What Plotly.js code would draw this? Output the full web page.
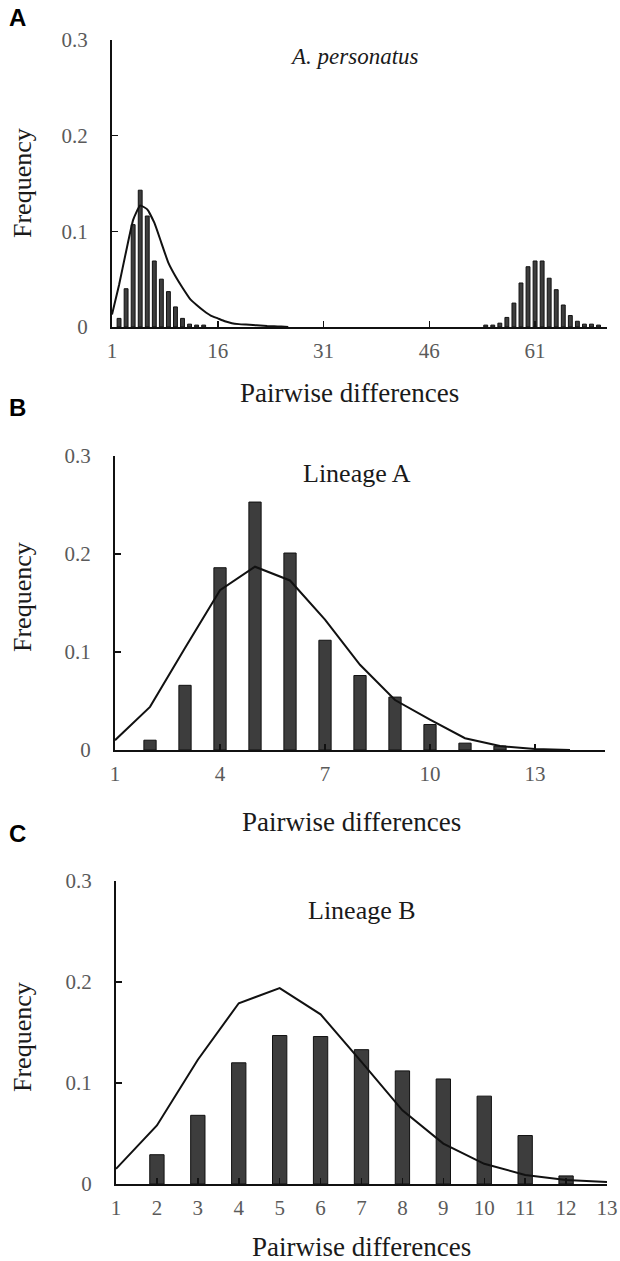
<!DOCTYPE html>
<html>
<head>
<meta charset="utf-8">
<script src="https://cdn.plot.ly/plotly-3.0.1.min.js"></script>
<style>
html,body{margin:0;padding:0;background:#fff;}
#chart{width:620px;height:1261px;}
</style>
</head>
<body>
<div id="chart"></div>
<script>
// ---------- Data ----------
// Panel A: A. personatus (observed bars + expected curve)
const aBarX = [2,3,4,5,6,7,8,9,10,11,12,13,14, 54,55,56,57,58,59,60,61,62,63,64,65,66,67,68,69,70];
const aBarY = [0.009,0.040,0.107,0.143,0.116,0.069,0.050,0.037,0.021,0.009,0.003,0.002,0.002,
               0.002,0.002,0.004,0.010,0.025,0.046,0.063,0.069,0.069,0.051,0.039,0.023,0.012,0.006,0.003,0.003,0.002];
const aCurveX = [1,2,3,4,5,6,7,8,9,10,11,12,13,14,15,16,17,18,19,20,21,22,23,24,25,26];
const aCurveY = [0.013,0.044,0.079,0.112,0.127,0.123,0.109,0.088,0.067,0.053,0.041,0.030,0.023,0.017,0.012,0.009,0.006,0.004,0.003,0.0025,0.002,0.0015,0.001,0.0007,0.0004,0];
const aTickVals = [1,16,31,46,61];

// Panel B: Lineage A
const bBarX = [2,3,4,5,6,7,8,9,10,11,12];
const bBarY = [0.010,0.066,0.186,0.253,0.201,0.112,0.076,0.054,0.026,0.007,0.004];
const bCurveX = [1,2,3,4,5,6,7,8,9,10,11,12,13,14];
const bCurveY = [0.010,0.044,0.104,0.163,0.187,0.173,0.133,0.087,0.051,0.031,0.012,0.004,0.001,0];
const bTickVals = [1,4,7,10,13];

// Panel C: Lineage B
const cBarX = [2,3,4,5,6,7,8,9,10,11,12];
const cBarY = [0.029,0.068,0.120,0.147,0.146,0.133,0.112,0.104,0.087,0.048,0.008];
const cCurveX = [1,2,3,4,5,6,7,8,9,10,11,12,13];
const cCurveY = [0.015,0.058,0.123,0.179,0.194,0.168,0.121,0.073,0.040,0.020,0.009,0.004,0.002];
const cTickVals = [1,2,3,4,5,6,7,8,9,10,11,12,13];

const yTickVals = [0,0.1,0.2,0.3];
const yTickText = ['0','0.1','0.2','0.3'];

// ---------- Layout helpers ----------
const W = 620, H = 1261;
const px = v => v / W;
const py = v => 1 - v / H;

const serif = 'Liberation Serif, Times New Roman, serif';
const barStyle = {color:'#3d3d3d', line:{color:'#111', width:1}};
const lineStyle = {color:'#111', width:2};

const traces = [
  {type:'bar', x:aBarX, y:aBarY, width:0.55, marker:barStyle, xaxis:'x', yaxis:'y'},
  {type:'scatter', mode:'lines', x:aCurveX, y:aCurveY, line:Object.assign({shape:'spline', smoothing:0.4}, lineStyle), xaxis:'x', yaxis:'y'},
  {type:'bar', x:bBarX, y:bBarY, width:0.35, marker:barStyle, xaxis:'x2', yaxis:'y2'},
  {type:'scatter', mode:'lines', x:bCurveX, y:bCurveY, line:lineStyle, xaxis:'x2', yaxis:'y2'},
  {type:'bar', x:cBarX, y:cBarY, width:0.35, marker:barStyle, xaxis:'x3', yaxis:'y3'},
  {type:'scatter', mode:'lines', x:cCurveX, y:cCurveY, line:lineStyle, xaxis:'x3', yaxis:'y3'}
];

function xAxis(domL, domR, range, tickvals, anchor){
  return {
    domain:[px(domL), px(domR)], range:range, anchor:anchor,
    tickmode:'array', tickvals:tickvals, ticktext:tickvals.map(String),
    ticks:'inside', ticklen:6, tickwidth:1.5, tickcolor:'#111',
    showline:true, linecolor:'#111', linewidth:2,
    showgrid:false, zeroline:false, fixedrange:true,
    ticklabelstandoff:4,
    tickfont:{family:serif, size:21, color:'#5a5a5a'}
  };
}
function yAxis(top, bottom, anchor){
  return {
    domain:[py(bottom), py(top)], range:[0,0.3], anchor:anchor,
    tickmode:'array', tickvals:yTickVals, ticktext:yTickText,
    ticks:'inside', ticklen:6, tickwidth:1.5, tickcolor:'#111',
    showline:true, linecolor:'#111', linewidth:2,
    showgrid:false, zeroline:false, fixedrange:true,
    ticklabelstandoff:18,
    tickfont:{family:serif, size:21, color:'#5a5a5a'}
  };
}

function ann(text, x, y, opts){
  return Object.assign({
    text:text, x:px(x), y:py(y), xref:'paper', yref:'paper',
    showarrow:false, xanchor:'center', yanchor:'middle',
    font:{family:serif, size:26, color:'#1a1a1a'}
  }, opts||{});
}

const letterFont = {family:'Liberation Sans, Arial, sans-serif', size:24, color:'#000'};
const annotations = [
  ann('<b>A</b>', 7, 18, {xanchor:'left', font:letterFont}),
  ann('<b>B</b>', 7, 408, {xanchor:'left', font:letterFont}),
  ann('<b>C</b>', 7, 833, {xanchor:'left', font:letterFont}),
  ann('Frequency', 22, 183, {textangle:-90}),
  ann('Frequency', 22, 597, {textangle:-90}),
  ann('Frequency', 22, 1037, {textangle:-90}),
  ann('Pairwise differences', 349, 393, {font:{family:serif, size:27, color:'#1a1a1a'}}),
  ann('Pairwise differences', 351, 822, {font:{family:serif, size:27, color:'#1a1a1a'}}),
  ann('Pairwise differences', 361, 1247, {font:{family:serif, size:27, color:'#1a1a1a'}}),
  ann('<i>A. personatus</i>', 354, 57, {font:{family:serif, size:23, color:'#1a1a1a'}}),
  ann('Lineage A', 357, 473),
  ann('Lineage B', 362, 910)
];

const layout = {
  width:W, height:H,
  margin:{l:0, r:0, t:0, b:0},
  paper_bgcolor:'#fff', plot_bgcolor:'#fff',
  showlegend:false,
  bargap:0,
  xaxis: xAxis(112, 607, [1, 71.2], aTickVals, 'y'),
  yaxis: yAxis(40, 327, 'x'),
  xaxis2: xAxis(115, 605, [1, 15], bTickVals, 'y2'),
  yaxis2: yAxis(456, 750, 'x2'),
  xaxis3: xAxis(116, 607, [1, 13], cTickVals, 'y3'),
  yaxis3: yAxis(881, 1184, 'x3'),
  annotations: annotations
};

Plotly.newPlot('chart', traces, layout, {staticPlot:true, displayModeBar:false});
</script>
</body>
</html>
